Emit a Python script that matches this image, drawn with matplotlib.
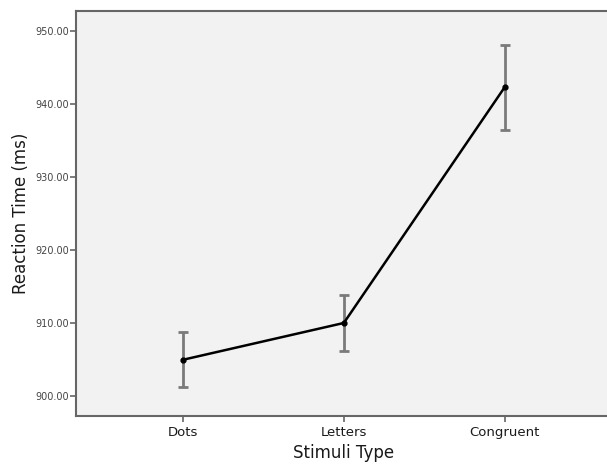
import matplotlib
matplotlib.use('Agg')
import matplotlib.pyplot as plt

categories = ['Dots', 'Letters', 'Congruent']
means = [904.95, 910.0, 942.35]
err_low = [901.25, 906.2, 936.45]
err_high = [908.75, 913.85, 948.1]
yticks = [900, 910, 920, 930, 940, 950]

fig = plt.figure(figsize=(6.07, 4.65), dpi=100)
ax = fig.add_axes([76 / 607, 49 / 465, 536 / 607, 405 / 465])
ax.set_facecolor('#f2f2f2')

x = list(range(len(categories)))
lower = [m - lo for m, lo in zip(means, err_low)]
upper = [hi - m for m, hi in zip(means, err_high)]
ax.errorbar(x, means, yerr=[lower, upper], fmt='none', ecolor='#7a7a7a',
            elinewidth=2, capsize=3.5, capthick=2, zorder=2)
ax.plot(x, means, color='black', lw=1.8, marker='o', ms=3.5, zorder=3)

ax.set_xlim(-0.663, 2.665)
ax.set_ylim(897.25, 952.75)
ax.set_xticks(x)
ax.set_xticklabels(categories, fontsize=9.5, color='#1a1a1a')
ax.set_yticks(yticks)
ax.set_yticklabels([f'{v:.2f}' for v in yticks], fontsize=7, color='#444444')
ax.tick_params(axis='both', direction='out', length=4.5, width=1.2, color='#666666')
ax.tick_params(axis='x', pad=3)
ax.tick_params(axis='y', pad=0.5)

for side in ['left', 'bottom', 'top']:
  ax.spines[side].set_color('#666666')
  ax.spines[side].set_linewidth(1.5)
ax.spines['right'].set_visible(False)

ax.set_xlabel('Stimuli Type', fontsize=12, color='#1a1a1a', labelpad=3)
ax.set_ylabel('Reaction Time (ms)', fontsize=12, color='#1a1a1a', labelpad=4)

fig.savefig('out.png', dpi=100)
